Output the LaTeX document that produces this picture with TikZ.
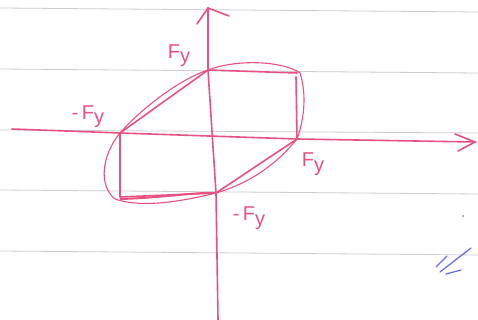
\documentclass[tikz,border=0pt]{standalone}
\usepackage{fontspec}
\setmainfont{Liberation Sans}
\definecolor{ink}{RGB}{232,82,128}
\definecolor{rule}{RGB}{205,205,210}
\definecolor{blueink}{RGB}{110,110,225}
\tikzset{
  paperline/.style={rule, line width=0.8pt},
  axis/.style={ink, line width=1.6pt, line cap=round},
  pen/.style={ink, line width=1.6pt, line cap=round, line join=round},
  loop/.style={ink, line width=1.1pt},
  lbl/.style={ink, font=\fontsize{20}{23}\selectfont, inner sep=0pt},
}
\begin{document}
\begin{tikzpicture}[x=1pt,y=-1pt]
\useasboundingbox (0,0) rectangle (478,320);
\fill[white] (0,0) rectangle (478,320);
% paper lines
\draw[paperline] (0,8) -- (478,12);
\draw[paperline] (0,69) -- (478,73);
\draw[paperline] (0,130) -- (478,133);
\draw[paperline] (0,190) -- (478,194);
\draw[paperline] (0,251) -- (478,255);
% key points
\coordinate (A) at (208,70);
\coordinate (B) at (120,133);
\coordinate (C) at (297,139);
\coordinate (D) at (216,193);
\coordinate (At) at (297,73);
\coordinate (Bb) at (120,197);
\coordinate (ytop) at (208,8);
\coordinate (ybot) at (218,320);
\coordinate (xleft) at (12,129);
\coordinate (xright) at (475,142);
% axes
\draw[axis] (ybot) -- (D) -- (A) -- (ytop);
\draw[axis] (197,24) -- (ytop) -- (229,16);
\draw[axis] (xleft) -- (B) -- (C) -- (xright);
\draw[axis] (455,134) -- (xright) -- (458,151);
% rectangles
\draw[pen] (A) -- (At);
\draw[pen] (296,77) -- (C);
\draw[pen] (B) -- (Bb) -- (D);
% diagonals
\draw[pen] (B) -- (A);
\draw[pen] (C) -- (D);
% loop
\draw[loop] (B) .. controls (140,110) and (178,80) .. (A)
  .. controls (240,58) and (285,62) .. (300,73)
  .. controls (307,95) and (304,120) .. (C)
  .. controls (270,172) and (240,186) .. (D)
  .. controls (180,202) and (140,208) .. (115,199)
  .. controls (98,185) and (102,155) .. (B);
\draw[ink, line width=2pt] (120,199) .. controls (160,198) and (195,192) .. (D);
% labels
\node[lbl] (lA) at (179,56) {F\raisebox{-0.35ex}{y}};
\node[lbl] (lB) at (88,117) {-\,F\raisebox{-0.35ex}{y}};
\node[lbl] (lC) at (313,164) {F\raisebox{-0.45ex}{y}};
\node[lbl] (lD) at (249,218) {-\,F\raisebox{-0.45ex}{y}};
% blue marks
\draw[blueink, line width=1.3pt, line cap=round] (436,267) -- (447,256);
\draw[blueink, line width=1.3pt, line cap=round] (440,272) -- (471,248);
\draw[blueink, line width=1.3pt, line cap=round] (446,274) -- (461,270);
\fill[blueink] (463,216) circle (1pt);
\end{tikzpicture}
\end{document}
